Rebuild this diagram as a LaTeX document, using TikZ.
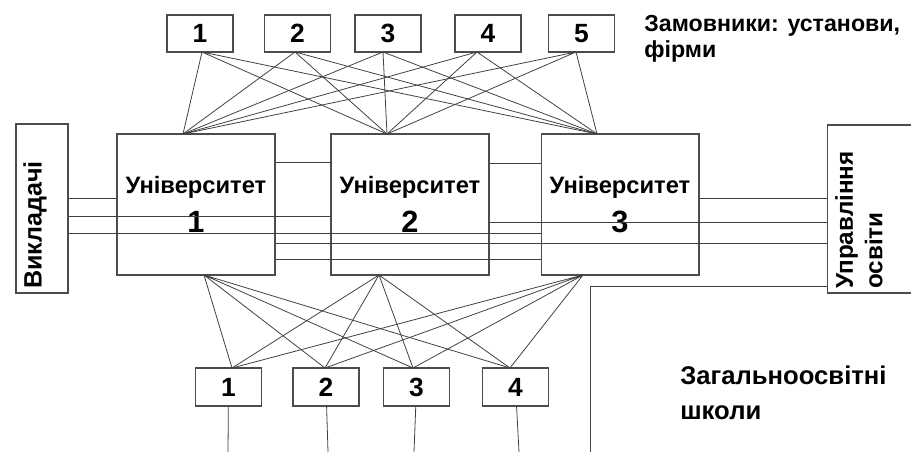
\documentclass[tikz,border=0pt]{standalone}
\usepackage{fontspec}
\setmainfont{Liberation Sans}
\tikzset{
  box/.style={draw=black!70,line width=.6pt,inner sep=0pt},
  numbox/.style={box,minimum width=1.32cm,minimum height=.74cm,font=\bfseries\fontsize{15}{15}\selectfont},
  unibox/.style={box,minimum width=3.16cm,minimum height=2.82cm,align=center},
  ln/.style={black!75,line width=.45pt}
}
\newcommand{\unitext}[1]{{\bfseries\fontsize{13.5}{16}\selectfont Університет}\\[6pt]{\bfseries\fontsize{17.5}{17.5}\selectfont #1}}
\begin{document}
\begin{tikzpicture}[x=.02cm,y=-.02cm]
\useasboundingbox (0,0) rectangle (911,452);

% customers
\node[numbox] (k1) at (200,33.5) {1};
\node[numbox] (k2) at (297.5,33.5) {2};
\node[numbox] (k3) at (388,33.5) {3};
\node[numbox] (k4) at (488,33.5) {4};
\node[numbox] (k5) at (581.5,33.5) {5};
\node[anchor=north west,align=left,inner sep=0pt,font=\bfseries\fontsize{13.2}{14.5}\selectfont] (zam) at (644,15) {Замовники: установи,\\фірми};

% universities
\node[unibox] (u1) at (196,204.5) {\unitext{1}};
\node[unibox] (u2) at (410,204.5) {\unitext{2}};
\node[unibox] (u3) at (620,204.5) {\unitext{3}};

% side boxes
\node[box,minimum width=1.04cm,minimum height=3.38cm] (vyk) at (42,208.5) {};
\node[rotate=90,anchor=north west,inner sep=0pt,font=\bfseries\fontsize{14.3}{14.3}\selectfont] (vykt) at (23,289) {Викладачі};
\node[box,minimum width=1.7cm,minimum height=3.36cm] (upr) at (869.5,209) {};
\node[rotate=90,anchor=north west,align=left,inner sep=0pt,font=\bfseries\fontsize{13.8}{16.8}\selectfont] (uprt) at (835,289) {Управління\\освіти};

% schools
\node[numbox,minimum height=.76cm] (s1) at (228.5,387) {1};
\node[numbox,minimum height=.76cm] (s2) at (326,387) {2};
\node[numbox,minimum height=.76cm] (s3) at (416.5,387) {3};
\node[numbox,minimum height=.76cm] (s4) at (515.5,387) {4};
\node[anchor=north west,align=left,inner sep=0pt,font=\bfseries\fontsize{14.6}{19.5}\selectfont] (zag) at (680,366) {Загальноосвітні\\школи};

% fan points
\coordinate (k1s) at (202,52);
\coordinate (k2s) at (295,52);
\coordinate (k3s) at (383,52);
\coordinate (k4s) at (477,52);
\coordinate (k5s) at (576,52);
\coordinate (u1n) at (183,134);
\coordinate (u2n) at (387,134);
\coordinate (u3n) at (597,134);
\coordinate (u1s) at (204,275);
\coordinate (u2s) at (379,275);
\coordinate (u3s) at (583,275);
\coordinate (s1n) at (232,368);
\coordinate (s2n) at (325,368);
\coordinate (s3n) at (413,368);
\coordinate (s4n) at (510,368);

\draw[ln] (k1s) -- (u1n) (k1s) -- (u2n) (k1s) -- (u3n);
\draw[ln] (k2s) -- (u1n) (k2s) -- (u2n) (k2s) -- (u3n);
\draw[ln] (k3s) -- (u1n) (k3s) -- (u2n) (k3s) -- (u3n);
\draw[ln] (k4s) -- (u1n) (k4s) -- (u2n) (k4s) -- (u3n);
\draw[ln] (k5s) -- (u1n) (k5s) -- (u2n) (k5s) -- (u3n);

\draw[ln] (u1s) -- (s1n) (u1s) -- (s2n) (u1s) -- (s3n) (u1s) -- (s4n);
\draw[ln] (u2s) -- (s1n) (u2s) -- (s2n) (u2s) -- (s3n) (u2s) -- (s4n);
\draw[ln] (u3s) -- (s1n) (u3s) -- (s2n) (u3s) -- (s3n) (u3s) -- (s4n);

% links between boxes
\draw[ln] (u1.east |- 0,162) -- (u2.west |- 0,162);
\draw[ln] (u2.east |- 0,163) -- (u3.west |- 0,163);
\draw[ln] (vyk.east |- 0,198) -- (u1.west |- 0,198);
\draw[ln] (vyk.east |- 0,216) -- (u2.west |- 0,216);
\draw[ln] (vyk.east |- 0,233) -- (u3.west |- 0,233);
\draw[ln] (u1.east |- 0,243) -- (upr.west |- 0,243);
\draw[ln] (u1.east |- 0,259) -- (u3.west |- 0,259);
\draw[ln] (u2.east |- 0,222) -- (upr.west |- 0,222);
\draw[ln] (u3.east |- 0,198) -- (upr.west |- 0,198);

% schools below
\coordinate (b1) at (228,452);
\coordinate (b2) at (328,452);
\coordinate (b3) at (414,452);
\coordinate (b4) at (519,452);
\draw[ln] (s1) -- (b1);
\draw[ln] (s2) -- (b2);
\draw[ln] (s3) -- (b3);
\draw[ln] (s4) -- (b4);
\coordinate (corner) at (590,286);
\coordinate (cend) at (590,452);
\draw[ln] (upr.west |- corner) -- (corner) -- (cend);
\end{tikzpicture}
\end{document}
